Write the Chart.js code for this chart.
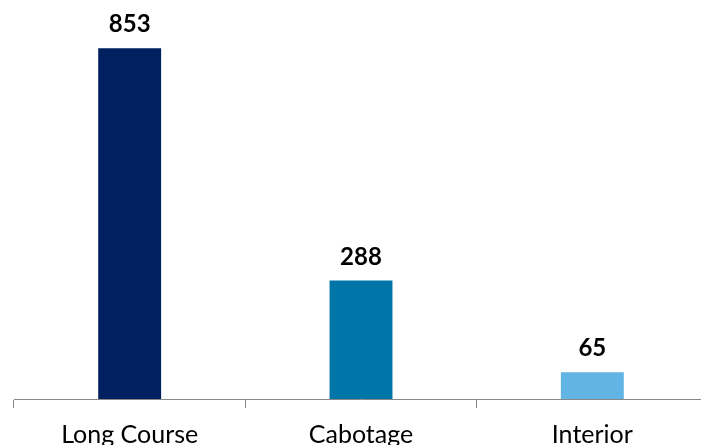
<!DOCTYPE html>
<html>
<head>
<meta charset="utf-8">
<script src="https://cdn.jsdelivr.net/npm/chart.js@4"></script>
<style>
  html, body { margin: 0; padding: 0; background: #fff; overflow: hidden; }
  #wrap { position: relative; width: 712px; height: 462px; }
</style>
</head>
<body>
<div id="wrap"><canvas id="bar-chart"></canvas></div>
<script>
const categories = ['Long Course', 'Cabotage', 'Interior'];
const values = [853, 288, 65];
const barColors = ['#002060', '#0075A8', '#62B4E4'];

const FONT = 'Lato, "Open Sans", sans-serif';

// value labels above each bar
const valueLabels = {
  id: 'valueLabels',
  afterDatasetsDraw(chart) {
    const ctx = chart.ctx;
    const meta = chart.getDatasetMeta(0);
    ctx.save();
    ctx.font = 'bold 24px ' + FONT;
    ctx.fillStyle = '#000';
    ctx.textAlign = 'center';
    ctx.textBaseline = 'alphabetic';
    meta.data.forEach((bar, i) => {
      ctx.fillText(values[i], bar.x, bar.y - 16);
    });
    ctx.restore();
  }
};

new Chart(document.getElementById('bar-chart'), {
  type: 'bar',
  data: {
    labels: categories,
    datasets: [{
      data: values,
      backgroundColor: barColors,
      borderWidth: 0,
      barPercentage: 1,
      categoryPercentage: 0.272
    }]
  },
  options: {
    responsive: true,
    maintainAspectRatio: false,
    animation: false,
    layout: { padding: { left: 14, right: 4, top: 0, bottom: 0 } },
    plugins: {
      legend: { display: false },
      tooltip: { enabled: false }
    },
    scales: {
      y: {
        display: false,
        min: 0,
        max: 970
      },
      x: {
        border: { display: true, color: '#888', width: 1 },
        grid: {
          offset: true,
          drawOnChartArea: false,
          drawTicks: true,
          tickLength: 9,
          color: '#888'
        },
        ticks: {
          color: '#000',
          padding: 12,
          font: { family: FONT, size: 25 }
        }
      }
    }
  },
  plugins: [valueLabels]
});
</script>
</body>
</html>
